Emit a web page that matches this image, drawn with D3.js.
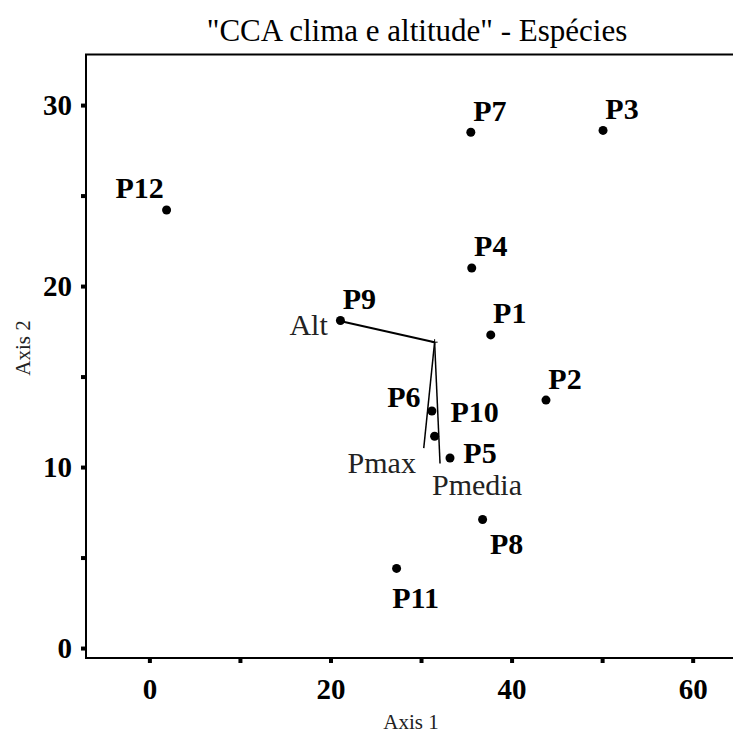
<!DOCTYPE html>
<html>
<head>
<meta charset="utf-8">
<script src="https://cdn.jsdelivr.net/npm/d3@7"></script>
<style>
  html, body { margin: 0; padding: 0; background: #fff; }
  svg { display: block; }
</style>
</head>
<body>
<svg id="chart" width="733" height="736"></svg>
<script>
// Site scores on the first two CCA axes
const sites  = ["P1", "P2", "P3", "P4", "P5", "P6", "P7", "P8", "P9", "P10", "P11", "P12"];
const axis1  = [37.7, 43.8, 50.1, 35.6, 33.2, 31.2, 35.5, 36.8, 21.1, 31.5, 27.3, 1.9];
const axis2  = [17.3, 13.7, 28.6, 21.0, 10.5, 13.1, 28.5,  7.1, 18.1, 11.7,  4.4, 24.2];

// Environmental vectors (climate and altitude), drawn from a common origin
const envNames  = ["Alt", "Pmax", "Pmedia"];
const envAxis1  = [20.8, 30.3, 32.1];
const envAxis2  = [18.1, 11.05, 10.2];
const envOrigin = [31.5, 16.9];

// Axis ticks
const xTicks = [0, 10, 20, 30, 40, 50, 60];
const yTicks = [0, 5, 10, 15, 20, 25, 30];
const xTickLabels = ["0", "", "20", "", "40", "", "60"];
const yTickLabels = ["0", "", "10", "", "20", "", "30"];

const svg = d3.select("#chart");
const serif = "'Liberation Serif', 'Times New Roman', serif";

const plotLeft = 86, plotRight = 747, plotTop = 54.4, plotBottom = 658;
const x = d3.scaleLinear().domain([-7, 66]).range([plotLeft, plotRight]);
const y = d3.scaleLinear().domain([-0.55, 32.8]).range([plotBottom, plotTop]);

// Label placement around each site point (pixel offsets)
const labelOffset = {
  P12: [-27, -23], P6: [-28, -14], P10: [40, -25], P5: [30, -6],
  P8: [24, 24], P11: [19, 29]
};
const defaultOffset = [19, -22];

// Title
svg.append("text")
  .attr("x", 417).attr("y", 41)
  .attr("text-anchor", "middle")
  .attr("font-family", serif).attr("font-size", 31)
  .text("\"CCA clima e altitude\" - Espécies");

// Frame (top, left, bottom)
svg.append("path")
  .attr("d", `M${plotRight},${plotTop} H${plotLeft} V${plotBottom} H${plotRight}`)
  .attr("fill", "none").attr("stroke", "#000").attr("stroke-width", 2);

// X axis
const xAxis = d3.axisBottom(x).tickValues(xTicks)
  .tickSize(5).tickPadding(15)
  .tickFormat((d, i) => xTickLabels[i]);
const gx = svg.append("g").attr("transform", `translate(0,${plotBottom})`).call(xAxis);
gx.select(".domain").remove();
gx.selectAll(".tick line").attr("stroke", "#000").attr("stroke-width", 4);
gx.selectAll(".tick text")
  .attr("font-family", serif).attr("font-size", 29).attr("font-weight", "bold").attr("fill", "#000");

// Y axis
const yAxis = d3.axisLeft(y).tickValues(yTicks)
  .tickSize(5).tickPadding(9)
  .tickFormat((d, i) => yTickLabels[i]);
const gy = svg.append("g").attr("transform", `translate(${plotLeft},0)`).call(yAxis);
gy.select(".domain").remove();
gy.selectAll(".tick line").attr("stroke", "#000").attr("stroke-width", 4);
gy.selectAll(".tick text")
  .attr("font-family", serif).attr("font-size", 29).attr("font-weight", "bold").attr("fill", "#000");

// Axis titles
svg.append("text")
  .attr("x", 411).attr("y", 729)
  .attr("text-anchor", "middle")
  .attr("font-family", serif).attr("font-size", 21)
  .attr("fill", "#222")
  .text("Axis 1");
svg.append("text")
  .attr("transform", `translate(30,348) rotate(-90)`)
  .attr("text-anchor", "middle")
  .attr("font-family", serif).attr("font-size", 21)
  .attr("fill", "#222")
  .text("Axis 2");

// Environmental vectors
const ox = x(envOrigin[0]), oy = y(envOrigin[1]);
const vec = svg.append("g");
envNames.forEach((name, i) => {
  vec.append("line")
    .attr("x1", ox).attr("y1", oy)
    .attr("x2", x(envAxis1[i])).attr("y2", y(envAxis2[i]))
    .attr("stroke", "#000").attr("stroke-width", name === "Alt" ? 2 : 1.5);
});
// origin cross
vec.append("line").attr("x1", ox - 3).attr("x2", ox + 3).attr("y1", oy).attr("y2", oy)
  .attr("stroke", "#000").attr("stroke-width", 1);
vec.append("line").attr("x1", ox).attr("x2", ox).attr("y1", oy - 3).attr("y2", oy + 3)
  .attr("stroke", "#000").attr("stroke-width", 1);

const envLabelPos = {
  Alt:    { dx: -10, dy: 4, anchor: "end" },
  Pmax:   { dx: -42, dy: 14, anchor: "middle" },
  Pmedia: { dx: 37, dy: 21, anchor: "middle" }
};
envNames.forEach((name, i) => {
  const p = envLabelPos[name];
  vec.append("text")
    .attr("x", x(envAxis1[i]) + p.dx).attr("y", y(envAxis2[i]) + p.dy)
    .attr("text-anchor", p.anchor)
    .attr("dominant-baseline", "central")
    .attr("font-family", serif).attr("font-size", 30)
    .attr("fill", "#222")
    .text(name);
});

// Site points and labels
const pts = svg.append("g");
sites.forEach((s, i) => {
  const cx = x(axis1[i]), cy = y(axis2[i]);
  pts.append("circle").attr("cx", cx).attr("cy", cy).attr("r", 4.5).attr("fill", "#000");
  const off = labelOffset[s] || defaultOffset;
  pts.append("text")
    .attr("x", cx + off[0]).attr("y", cy + off[1])
    .attr("text-anchor", "middle")
    .attr("dominant-baseline", "central")
    .attr("font-family", serif).attr("font-size", 30).attr("font-weight", "bold")
    .attr("fill", "#000")
    .text(s);
});
</script>
</body>
</html>
